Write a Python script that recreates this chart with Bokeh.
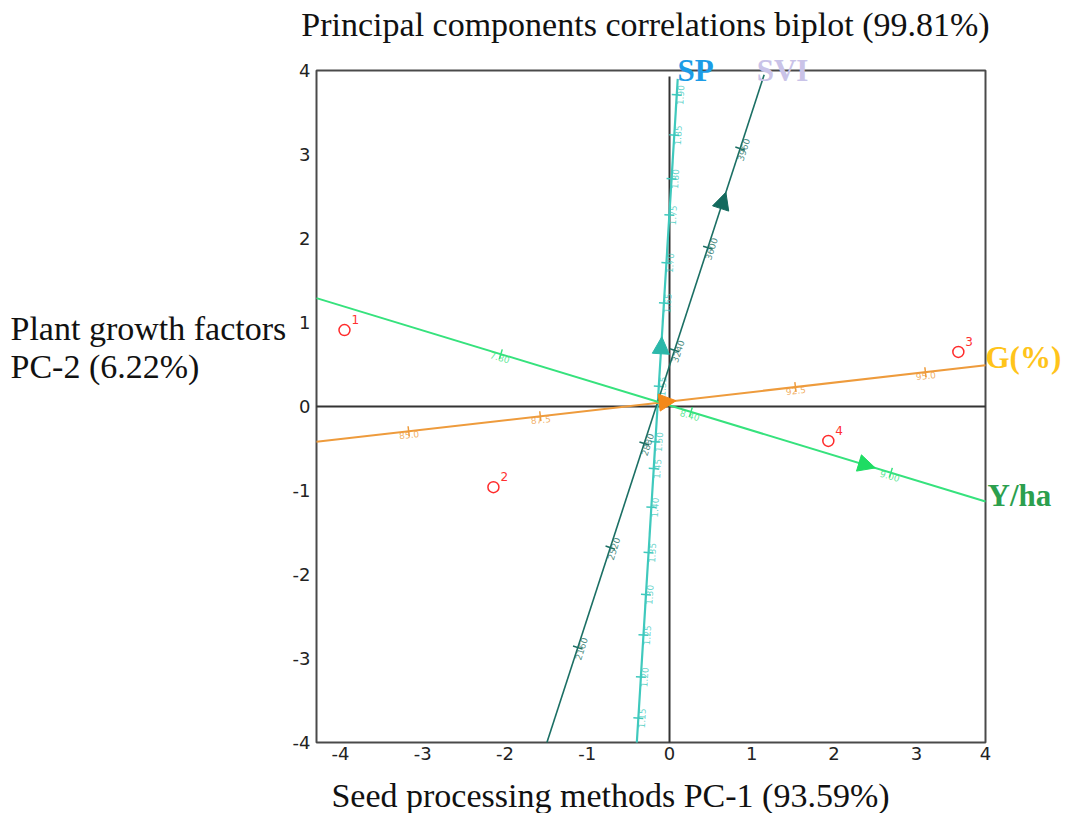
import math
from bokeh.plotting import figure
from bokeh.models import Range1d, Label, Arrow, NormalHead
from bokeh.core.properties import value
from bokeh.embed import file_html
from bokeh.resources import INLINE

# ---------------- data ----------------
obs_ids = ["1", "2", "3", "4"]
obs_pc1 = [-3.95, -2.14, 3.51, 1.93]
obs_pc2 = [0.91, -0.96, 0.65, -0.41]

var_names = ["SP", "SVI", "G(%)", "Y/ha"]
var_x0 = [-0.397, -1.49, -4.29, -4.29]
var_y0 = [-4.00, -4.00, -0.42, 1.29]
var_x1 = [0.10, 1.15, 3.84, 3.84]
var_y1 = [3.90, 3.95, 0.49, -1.13]

# arrow tip along each vector (y for near-vertical, x for near-horizontal)
arrow_pos = [0.83, 2.55, 0.08, 2.50]

# calibration ticks along the vectors
sp_ticks = [3.71, 3.23, 2.71, 2.28, 1.71, 1.23, 0.24, -0.42, -0.74, -1.20, -1.74, -2.24, -2.72, -3.22, -3.71]
sp_tick_labels = ["1.90", "1.85", "1.80", "1.75", "1.70", "1.65", "1.55", "1.50", "1.45", "1.40", "1.35", "1.30", "1.25", "1.20", "1.15"]
svi_ticks = [3.07, 1.89, 0.67, -0.44, -1.68, -2.87]
svi_tick_labels = ["3960", "3600", "3240", "2880", "2520", "2160"]
g_ticks = [-3.17, -1.57, 1.53, 3.11]
g_tick_labels = ["85.0", "87.5", "92.5", "95.0"]
yha_ticks = [-2.05, 0.26, 2.69]
yha_tick_labels = ["7.80", "8.40", "9.00"]

x_tick_values = [-4, -3, -2, -1, 0, 1, 2, 3, 3.84]
x_tick_labels = ["-4", "-3", "-2", "-1", "0", "1", "2", "3", "4"]
y_tick_values = [-4, -3, -2, -1, 0, 1, 2, 3, 4]
y_tick_labels = ["-4", "-3", "-2", "-1", "0", "1", "2", "3", "4"]

title_text = "Principal components correlations biplot (99.81%)"
xlabel_text = "Seed processing methods PC-1 (93.59%)"
ylabel_lines = ["Plant growth factors", "PC-2 (6.22%)"]

# ---------------- styles / layout ----------------
line_colors = ["#3fc9bd", "#1b6f64", "#ee9b3c", "#36e27d"]
head_colors = ["#2bb8aa", "#146a5e", "#f3881a", "#1edc63"]
name_colors = ["#1c9ce6", "#c9c3e8", "#ffc41a", "#2c9f4e"]
line_widths = [2.2, 1.6, 2.0, 2.0]
vertical_like = [True, True, False, False]

XR = (-4.29, 3.84)          # data extent of the plot box
YR = (-4.0, 4.0)
L, R, T, B = 316, 81, 70, 71  # pixel margins around the plot box
W, H = 1066, 813
sx = (W - L - R) / (XR[1] - XR[0])
sy = (H - T - B) / (YR[1] - YR[0])

def X(px):
    return XR[0] + (px - L) / sx

def Y(py):
    return YR[1] - (py - T) / sy

p = figure(width=W, height=H, x_range=Range1d(X(0), X(W)), y_range=Range1d(Y(H), Y(0)),
           output_backend="svg", toolbar_location=None, title=None,
           min_border=0, min_border_left=0, min_border_right=0, min_border_top=0, min_border_bottom=0)
p.axis.visible = False
p.grid.visible = False
p.outline_line_color = None
p.background_fill_color = "white"
p.border_fill_color = "white"

SERIF = "Liberation Serif"
TICKFONT = value("DejaVu Sans")

# plot box
p.quad(left=[XR[0]], right=[XR[1]], bottom=[YR[0]], top=[YR[1]], fill_color=None,
       line_color="#4a4a4a", line_width=2)

# axis tick labels
p.text(x=x_tick_values, y=[YR[0]] * len(x_tick_values), text=x_tick_labels, y_offset=4,
       text_font=TICKFONT, text_font_size="18px", text_color="#222222",
       text_align="center", text_baseline="top")
p.text(x=[XR[0]] * len(y_tick_values), y=y_tick_values, text=y_tick_labels, x_offset=-6,
       text_font=TICKFONT, text_font_size="18px", text_color="#222222",
       text_align="right", text_baseline="middle")

# crosshair at origin
p.line([XR[0], XR[1]], [0, 0], line_color="#333333", line_width=2)
p.line([0, 0], [YR[0], 3.93], line_color="#333333", line_width=2)

tick_sets = [(sp_ticks, sp_tick_labels), (svi_ticks, svi_tick_labels),
             (g_ticks, g_tick_labels), (yha_ticks, yha_tick_labels)]

def on_line(i, t):
    x0, y0, x1, y1 = var_x0[i], var_y0[i], var_x1[i], var_y1[i]
    if vertical_like[i]:
        f = (t - y0) / (y1 - y0)
        return x0 + f * (x1 - x0), t
    f = (t - x0) / (x1 - x0)
    return t, y0 + f * (y1 - y0)

for i in range(4):
    x0, y0, x1, y1 = var_x0[i], var_y0[i], var_x1[i], var_y1[i]
    p.line([x0, x1], [y0, y1], line_color=line_colors[i], line_width=line_widths[i])
    dxp, dyp = (x1 - x0) * sx, (y1 - y0) * sy
    n = math.hypot(dxp, dyp)
    ang = math.atan2(dyp, dxp)
    if ang > math.pi / 2:
        ang -= math.pi
    if ang < -math.pi / 2:
        ang += math.pi
    px, py = -dyp / n * 5 / sx, dxp / n * 5 / sy
    tv, tl = tick_sets[i]
    pts = [on_line(i, t) for t in tv]
    xs = [q[0] for q in pts]
    ys = [q[1] for q in pts]
    p.segment([x - px for x in xs], [y - py for y in ys], [x + px for x in xs], [y + py for y in ys],
              line_color=line_colors[i], line_width=1.5)
    p.text(xs, ys, text=tl, angle=ang, text_font=TICKFONT, text_font_size="9px",
           text_align="center", text_baseline="top", text_color=line_colors[i], text_alpha=0.8)
    ax_, ay_ = on_line(i, arrow_pos[i])
    p.add_layout(Arrow(end=NormalHead(size=17, fill_color=head_colors[i], line_color=head_colors[i]),
                       x_start=x0, y_start=y0, x_end=ax_, y_end=ay_, line_color=None))

# variable names
name_pos = [(X(695), Y(70), "center"), (X(782), Y(70), "center"),
            (X(985), Y(357), "left"), (X(987), Y(495), "left")]
for i, (nx, ny, al) in enumerate(name_pos):
    p.add_layout(Label(x=nx, y=ny, text=var_names[i], text_font=SERIF,
                       text_font_style="bold", text_font_size="31px", text_color=name_colors[i],
                       text_align=al, text_baseline="middle"))

# observations
p.scatter(obs_pc1, obs_pc2, marker="circle", size=11, fill_color=None,
          line_color="#ff2b2b", line_width=1.5)
p.text(obs_pc1, obs_pc2, text=obs_ids, x_offset=7, y_offset=-6, text_font=TICKFONT,
       text_font_size="12px", text_color="#ff3030", text_baseline="bottom", text_align="left")

# titles
p.add_layout(Label(x=X(645), y=Y(24), text=title_text, text_font=SERIF,
                   text_font_size="34px", text_color="#111111", text_align="center",
                   text_baseline="middle"))
p.add_layout(Label(x=X(610), y=Y(795), text=xlabel_text, text_font=SERIF,
                   text_font_size="34px", text_color="#111111", text_align="center",
                   text_baseline="middle"))
for py_, txt in zip([328, 366], ylabel_lines):
    p.add_layout(Label(x=X(10), y=Y(py_), text=txt, text_font=SERIF,
                       text_font_size="34px", text_color="#111111", text_align="left",
                       text_baseline="middle"))

open("out.html", "w").write(file_html(p, INLINE))
